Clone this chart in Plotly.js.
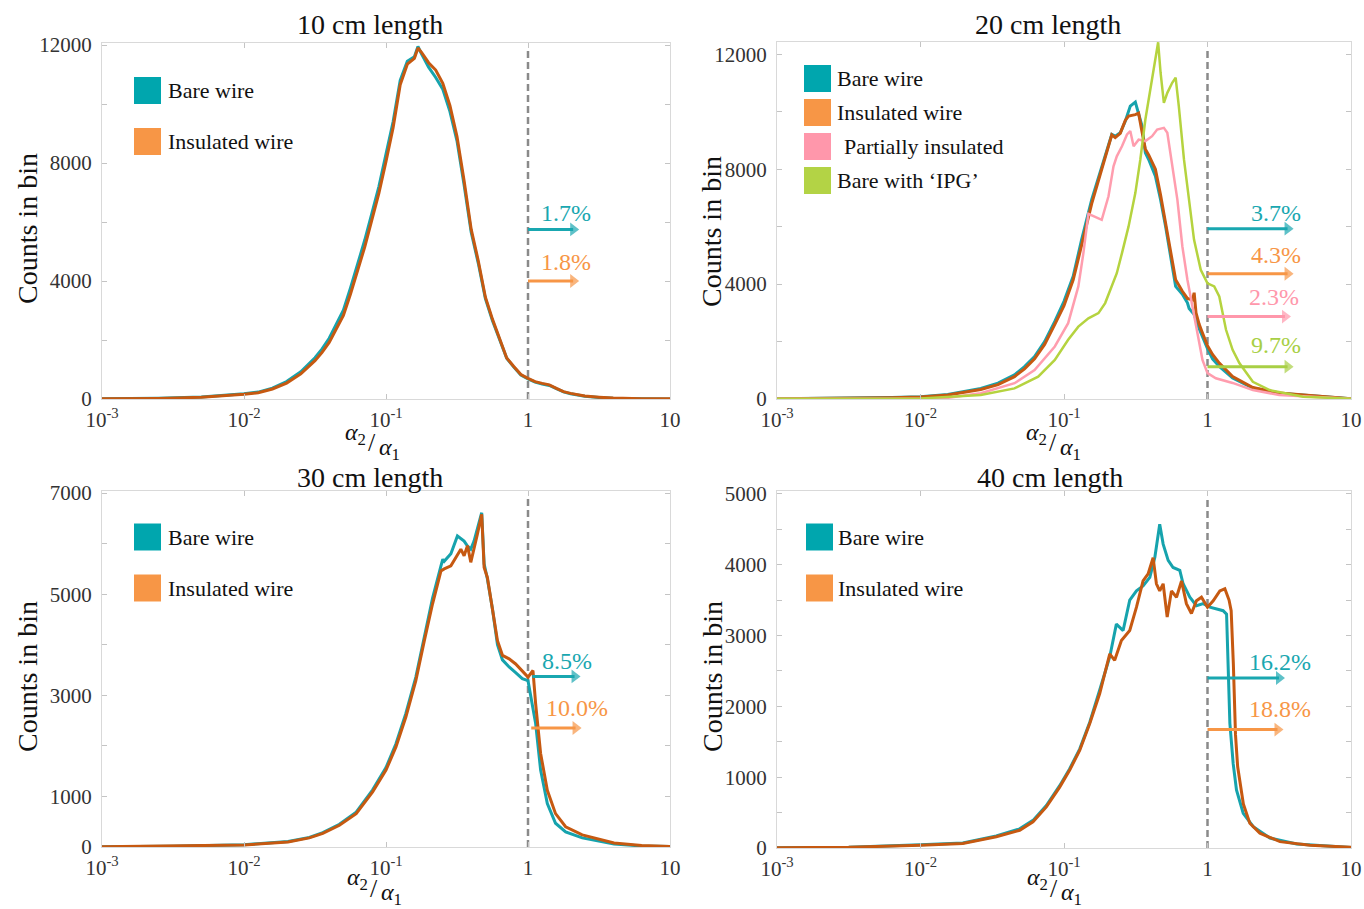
<!DOCTYPE html>
<html>
<head>
<meta charset="utf-8">
<script src="https://cdn.plot.ly/plotly-3.0.1.min.js"></script>
<style>html,body{margin:0;padding:0;background:#fff;}#chart{width:1364px;height:909px;}</style>
</head>
<body>
<div id="chart"></div>
<script>
// ---------------- DATA ----------------
const panelTitles = ['10 cm length', '20 cm length', '30 cm length', '40 cm length'];
const xTickVals = [0.001, 0.01, 0.1, 1, 10];
const xTickText = ['10<sup>-3</sup>', '10<sup>-2</sup>', '10<sup>-1</sup>', '1', '10'];
const yTickVals = [[0, 4000, 8000, 12000], [0, 4000, 8000, 12000], [0, 1000, 3000, 5000, 7000], [0, 1000, 2000, 3000, 4000, 5000]];
const yTickText = [['0', '4000', '8000', '12000'], ['0', '4000', '8000', '12000'], ['0', '1000', '3000', '5000', '7000'], ['0', '1000', '2000', '3000', '4000', '5000']];
const yMinorStep = [2000, 2000, 1000, 500];

// 10 cm
const bare10X = [0.001,0.002512,0.005012,0.007943,0.01,0.01259,0.01585,0.01995,0.02512,0.03162,0.03548,0.03981,0.04467,0.05012,0.05623,0.0631,0.07079,0.07943,0.08913,0.1,0.1122,0.1259,0.1413,0.1585,0.1679,0.1778,0.1995,0.2239,0.2512,0.2818,0.3162,0.3548,0.3981,0.4467,0.5012,0.5623,0.631,0.7079,0.7943,0.8913,1,1.122,1.259,1.413,1.585,1.778,1.995,2.512,3.162,3.981,6.31,10];
const bare10Y = [5,22,65,130,175,235,370,590,920,1400,1700,2060,2530,3010,3760,4560,5380,6280,7200,8300,9400,10800,11450,11600,11950,11700,11250,10900,10500,9750,8750,7250,5650,4600,3400,2650,2000,1380,1080,810,680,570,510,460,350,240,180,95,55,28,9,4];
const insul10X = bare10X;
const insul10Y = [5,20,60,120,160,215,340,540,850,1300,1580,1920,2370,2830,3560,4350,5150,6060,6980,8050,9200,10650,11350,11550,11900,11750,11400,11150,10700,9950,8900,7400,5750,4680,3450,2700,2020,1390,1100,830,700,590,530,480,360,250,190,100,60,30,10,5];

// 20 cm
const bare20X = [0.001,0.003162,0.00631,0.01,0.01549,0.0263,0.03467,0.04519,0.05309,0.06237,0.07328,0.0863,0.1,0.1159,0.1327,0.156,0.1832,0.2042,0.2153,0.2275,0.2466,0.2673,0.2897,0.3141,0.3311,0.3499,0.369,0.389,0.4335,0.471,0.5105,0.5534,0.5998,0.6683,0.7244,0.7447,0.8054,0.875,0.9226,1,1.084,1.208,1.496,2.07,3.162,6.081,10];
const bare20Y = [5,20,50,80,160,370,550,840,1130,1480,2000,2700,3400,4270,5550,6940,8100,8800,9210,9150,9270,9670,10200,10340,9970,9500,8570,8340,7760,6940,6010,4970,3920,3650,3350,3150,2950,2450,2150,1750,1400,1130,730,380,200,80,10];
const insul20X = [0.001,0.003162,0.00631,0.01,0.01549,0.0263,0.03467,0.04519,0.05309,0.06237,0.07328,0.0863,0.1,0.1159,0.1327,0.156,0.1832,0.2042,0.2153,0.2275,0.2466,0.2673,0.2818,0.3141,0.3311,0.3467,0.369,0.389,0.4335,0.471,0.5105,0.5534,0.5998,0.6683,0.7244,0.7852,0.8072,0.8318,0.875,0.9226,1,1.084,1.208,1.496,2.07,3.162,6.081,10];
const insul20Y = [5,15,40,70,140,330,500,780,1050,1400,1900,2600,3250,4150,5400,6800,8000,8800,9200,9100,9250,9700,9850,9900,9950,9400,8700,8500,8000,7100,6100,5100,4150,3750,3500,3450,3700,3000,2600,2300,1850,1550,1250,780,400,210,85,10];
const partial20X = [0.001,0.003162,0.01,0.01259,0.01549,0.0263,0.04519,0.06237,0.0863,0.1069,0.1259,0.1365,0.1479,0.1644,0.1832,0.2042,0.2213,0.2333,0.2535,0.2748,0.2897,0.3055,0.3311,0.369,0.4111,0.4457,0.4966,0.5248,0.5675,0.6166,0.6683,0.7244,0.7852,0.8511,0.9226,1,1.143,1.496,2.07,3.162,6.081,10];
const partial20Y = [5,5,10,20,40,200,550,1010,1830,2640,3920,5080,6450,6360,6240,7060,8100,8450,8800,9210,9330,8800,9030,8980,9150,9380,9440,9270,8100,6940,5310,4150,3220,2290,1360,900,720,560,310,140,50,5];
const ipg20X = [0.001,0.003162,0.01,0.0263,0.04519,0.06607,0.0863,0.1069,0.1259,0.1479,0.1738,0.1936,0.2153,0.2333,0.2535,0.2818,0.3141,0.3404,0.369,0.389,0.4227,0.4529,0.471,0.4966,0.5248,0.5675,0.5998,0.631,0.6855,0.743,0.8054,0.8974,1,1.114,1.208,1.346,1.496,1.667,2.07,2.71,4.645,10];
const ipg20Y = [5,10,20,140,370,780,1360,2060,2520,2810,2990,3340,3920,4380,5080,6010,7170,8340,9730,10430,11590,12420,11360,10310,10660,11010,11190,10200,8340,6940,5550,4500,4030,3920,3570,2410,1710,1250,600,310,80,10];

// 30 cm
const bare30X = [0.001,0.003162,0.01,0.02042,0.02884,0.03589,0.04699,0.06166,0.08054,0.1,0.1175,0.138,0.1622,0.1862,0.2128,0.2438,0.2512,0.257,0.2864,0.3184,0.3365,0.3548,0.375,0.3954,0.4169,0.4406,0.4721,0.4909,0.5176,0.5623,0.6095,0.6607,0.7362,0.8185,0.912,1,1.132,1.227,1.368,1.563,1.841,2.41,3.327,4.036,6.31,10];
const bare30Y = [5,15,45,110,190,285,450,690,1130,1570,2040,2640,3360,4180,4920,5560,5690,5650,5800,6150,6100,6050,5950,5890,6050,6300,6610,5600,5300,4700,4000,3700,3560,3450,3330,3290,2440,1520,860,470,300,180,110,60,20,8];
const insul30X = [0.001,0.003162,0.01,0.02042,0.02884,0.03589,0.04699,0.06166,0.08054,0.1,0.1175,0.138,0.1622,0.1862,0.2128,0.2438,0.257,0.2864,0.3105,0.3365,0.3548,0.375,0.3954,0.4169,0.4406,0.4721,0.4909,0.5176,0.5623,0.6095,0.6607,0.7362,0.8185,0.912,1,1.084,1.132,1.227,1.368,1.563,1.841,2.41,3.327,4.036,6.31,10];
const insul30Y = [5,15,40,100,180,270,430,660,1090,1520,1980,2570,3290,4080,4810,5460,5500,5560,5730,5890,5760,5960,5630,5890,6190,6580,5530,5330,4740,4080,3790,3720,3620,3490,3360,3490,2830,1850,1120,660,400,240,140,80,30,10];

// 40 cm
const bare40X = [0.001,0.003162,0.01,0.01972,0.03373,0.04909,0.06081,0.07534,0.09333,0.1096,0.1288,0.1514,0.1774,0.2084,0.2317,0.2582,0.2871,0.3199,0.3556,0.3963,0.4295,0.4645,0.4909,0.5321,0.5754,0.6412,0.6761,0.7534,0.8375,0.9333,1.038,1.156,1.285,1.358,1.393,1.432,1.51,1.592,1.774,2.084,2.723,4.178,10];
const bare40Y = [5,10,45,70,170,270,390,600,880,1120,1400,1780,2230,2700,3160,3070,3500,3630,3700,3820,4100,4570,4290,4060,3960,3920,3730,3540,3420,3450,3400,3380,3350,3300,2690,1760,1190,820,490,300,140,56,8];
const insul40X = [0.001,0.003162,0.01,0.01972,0.03373,0.04909,0.06081,0.07534,0.09333,0.1096,0.1288,0.1514,0.1774,0.2084,0.2254,0.2512,0.2871,0.3199,0.3556,0.3855,0.4178,0.4406,0.4645,0.4909,0.5236,0.561,0.6081,0.6592,0.7129,0.7727,0.8375,0.9078,1,1.096,1.219,1.321,1.413,1.462,1.514,1.567,1.622,1.698,1.778,1.972,2.317,3.199,5.176,10];
const insul40Y = [5,10,40,65,160,250,370,580,860,1100,1380,1760,2180,2740,2650,2930,3070,3400,3770,3870,4100,3730,3630,3730,3260,3630,3540,3770,3450,3310,3490,3540,3400,3490,3630,3660,3500,3350,2600,1600,1150,880,620,350,210,90,40,10];

// threshold line (alpha2/alpha1 = 1) and percentages of counts above it
const thresholdX = 1;
const dashTop = [11830, 12170, 6900, 4930];
const pct10Labels = ['1.7%', '1.8%'];
const pct10Levels = [5750, 4000];
const pct10TextY = [6300, 4650];
const pct10TextX = [1.854, 1.854];
const pct10TailX = [1, 1];
const pct10TipX = [2.08, 2.08];
const pct20Labels = ['3.7%', '4.3%', '2.3%', '9.7%'];
const pct20Levels = [5930, 4360, 2870, 1127];
const pct20TextY = [6490, 5020, 3560, 1880];
const pct20TextX = [2.985, 2.985, 2.891, 2.985];
const pct20TailX = [1, 1, 1, 1];
const pct20TipX = [3.615, 3.615, 3.467, 3.615];
const pct30Labels = ['8.5%', '10.0%'];
const pct30Levels = [3373, 2353];
const pct30TextY = [3675, 2740];
const pct30TextX = [1.888, 2.218];
const pct30TailX = [1.072, 1.054];
const pct30TipX = [2.128, 2.163];
const pct40Labels = ['16.2%', '18.8%'];
const pct40Levels = [2400, 1672];
const pct40TextY = [2624, 1968];
const pct40TextX = [3.199, 3.199];
const pct40TailX = [1, 1];
const pct40TipX = [3.148, 3.076];

const seriesNames = ['Bare wire', 'Insulated wire', 'Partially insulated', 'Bare with \u2018IPG\u2019'];

// ---------------- STYLE ----------------
const FONT = '"Liberation Serif", "Times New Roman", Times, serif';
const W = 1364, H = 909;
const LINE = {bare: '#16A3AD', insul: '#C65911', partial: '#FF9DAE', ipg: '#B5D33F'};
const KEY = {bare: '#00A6AE', insul: '#F79646', partial: '#FF97AB', ipg: '#B3D345'};
const PCT = {bare: '#19A7B0', insul: '#F79646', partial: '#FF97AB', ipg: '#A8CF45'};

const px = x => x / W;
const py = y => 1 - y / H;

const domX = [[px(102), px(670)], [px(777), px(1351)]];
const domY = [[py(399), py(43)], [py(399), py(42)], [py(847), py(491)], [py(848), py(491)]];
const yRanges = [[0, 12068], [0, 12430], [0, 7040], [0, 5040]];

function line(x, y, color, width, xa, ya, name) {
  return {x: x, y: y, xaxis: xa, yaxis: ya, type: 'scatter', mode: 'lines', name: name,
    line: {color: color, width: width}, showlegend: false, hoverinfo: 'x+y+name'};
}
function dash(i, xa, ya) {
  return {x: [thresholdX, thresholdX], y: [0, dashTop[i]], xaxis: xa, yaxis: ya, type: 'scatter', mode: 'lines',
    line: {color: '#8a8a8a', width: 2.5, dash: '7px,4px'}, showlegend: false, hoverinfo: 'skip'};
}
function arrows(xa, ya, levels, tails, tips, colors) {
  return levels.map((lv, k) => ({x: [tails[k], tips[k]], y: [lv, lv], xaxis: xa, yaxis: ya, type: 'scatter',
    mode: 'lines+markers', line: {color: colors[k], width: 3},
    marker: {symbol: ['circle', 'triangle-right'], size: [0, 12], color: colors[k], line: {width: 0}},
    showlegend: false, hoverinfo: 'skip'}));
}

const traces = [
  dash(0, 'x', 'y'),
  line(bare10X, bare10Y, LINE.bare, 3, 'x', 'y', seriesNames[0]),
  line(insul10X, insul10Y, LINE.insul, 3, 'x', 'y', seriesNames[1]),
  dash(1, 'x2', 'y2'),
  line(bare20X, bare20Y, LINE.bare, 3, 'x2', 'y2', seriesNames[0]),
  line(insul20X, insul20Y, LINE.insul, 3, 'x2', 'y2', seriesNames[1]),
  line(partial20X, partial20Y, LINE.partial, 2.5, 'x2', 'y2', seriesNames[2]),
  line(ipg20X, ipg20Y, LINE.ipg, 2.5, 'x2', 'y2', seriesNames[3]),
  dash(2, 'x3', 'y3'),
  line(bare30X, bare30Y, LINE.bare, 3, 'x3', 'y3', seriesNames[0]),
  line(insul30X, insul30Y, LINE.insul, 3, 'x3', 'y3', seriesNames[1]),
  dash(3, 'x4', 'y4'),
  line(bare40X, bare40Y, LINE.bare, 3, 'x4', 'y4', seriesNames[0]),
  line(insul40X, insul40Y, LINE.insul, 3, 'x4', 'y4', seriesNames[1])
].concat(
  arrows('x', 'y', pct10Levels, pct10TailX, pct10TipX, [PCT.bare, PCT.insul]),
  arrows('x2', 'y2', pct20Levels, pct20TailX, pct20TipX, [PCT.bare, PCT.insul, PCT.partial, PCT.ipg]),
  arrows('x3', 'y3', pct30Levels, pct30TailX, pct30TipX, [PCT.bare, PCT.insul]),
  arrows('x4', 'y4', pct40Levels, pct40TailX, pct40TipX, [PCT.bare, PCT.insul])
);

const tickFont = {family: FONT, size: 21, color: '#333'};
function xAxis(dom, anchor) {
  return {type: 'log', domain: dom, anchor: anchor, range: [-3, 1], tickmode: 'array', tickvals: xTickVals, ticktext: xTickText,
    ticks: 'inside', ticklen: 5, tickcolor: '#c4c4c4', showline: true, linecolor: '#d9d9d9', linewidth: 1, mirror: 'ticks',
    showgrid: false, zeroline: false, tickfont: tickFont, ticklabelstandoff: 2, fixedrange: true};
}
function yAxis(i, anchor) {
  return {domain: domY[i], anchor: anchor, range: yRanges[i], tickmode: 'array', tickvals: yTickVals[i], ticktext: yTickText[i],
    ticks: 'inside', ticklen: 5, tickcolor: '#c4c4c4', showline: true, linecolor: '#d9d9d9', linewidth: 1, mirror: 'ticks',
    minor: {tick0: 0, dtick: yMinorStep[i], ticks: 'inside', ticklen: 5, tickcolor: '#c4c4c4', showgrid: false},
    showgrid: false, zeroline: false, tickfont: tickFont, ticklabelstandoff: 5, fixedrange: true};
}

const annotations = [];
const shapes = [];

// panel titles
const titlePos = [[370, 25], [1048, 25], [370, 477], [1050, 477]];
panelTitles.forEach((t, i) => annotations.push({xref: 'paper', yref: 'paper', x: px(titlePos[i][0]), y: py(titlePos[i][1]),
  text: t, showarrow: false, xanchor: 'center', yanchor: 'middle', font: {family: FONT, size: 28, color: '#111'}}));

// y titles
const yTitlePos = [[27, 229], [711, 232], [27, 677], [712, 677]];
yTitlePos.forEach(p => annotations.push({xref: 'paper', yref: 'paper', x: px(p[0]), y: py(p[1]), text: 'Counts in bin',
  textangle: -90, showarrow: false, xanchor: 'center', yanchor: 'middle', font: {family: FONT, size: 28, color: '#111'}}));

// x titles: alpha2 / alpha1 written as a slanted fraction
const xTitlePos = [[373, 442], [1054, 442], [375, 887], [1055, 887]];
xTitlePos.forEach(p => {
  annotations.push({xref: 'paper', yref: 'paper', x: px(p[0] - 18), y: py(p[1] - 8), text: '<i>\u03b1</i><sub>2</sub>',
    showarrow: false, xanchor: 'center', yanchor: 'middle', font: {family: FONT, size: 24, color: '#111'}});
  annotations.push({xref: 'paper', yref: 'paper', x: px(p[0] - 1), y: py(p[1] + 1), text: '/',
    showarrow: false, xanchor: 'center', yanchor: 'middle', font: {family: FONT, size: 26, color: '#111'}});
  annotations.push({xref: 'paper', yref: 'paper', x: px(p[0] + 16), y: py(p[1] + 7), text: '<i>\u03b1</i><sub>1</sub>',
    showarrow: false, xanchor: 'center', yanchor: 'middle', font: {family: FONT, size: 24, color: '#111'}});
});

// legends (key squares + labels)
function legend(x0, centers, keys, names, textX) {
  centers.forEach((c, k) => {
    shapes.push({type: 'rect', xref: 'paper', yref: 'paper', x0: px(x0), x1: px(x0 + 27), y0: py(c + 13.5), y1: py(c - 13.5),
      fillcolor: keys[k], line: {width: 0}});
    annotations.push({xref: 'paper', yref: 'paper', x: px(textX[k]), y: py(c), text: names[k], showarrow: false,
      xanchor: 'left', yanchor: 'middle', font: {family: FONT, size: 22, color: '#111'}});
  });
}
legend(134, [90.5, 141.5], [KEY.bare, KEY.insul], seriesNames.slice(0, 2), [166, 166]);
legend(804, [78.5, 112.5, 146.5, 180.5], [KEY.bare, KEY.insul, KEY.partial, KEY.ipg], seriesNames, [835, 835, 842, 835]);
legend(134, [537, 588], [KEY.bare, KEY.insul], seriesNames.slice(0, 2), [166, 166]);
legend(806, [537, 588], [KEY.bare, KEY.insul], seriesNames.slice(0, 2), [836, 836]);

// percentage labels
function pctText(xa, ya, labels, textX, textY, colors) {
  labels.forEach((lab, k) => annotations.push({xref: xa, yref: ya, x: Math.log10(textX[k]), y: textY[k], text: lab,
    showarrow: false, xanchor: 'center', yanchor: 'middle', font: {family: FONT, size: 24, color: colors[k]}}));
}
pctText('x', 'y', pct10Labels, pct10TextX, pct10TextY, [PCT.bare, PCT.insul]);
pctText('x2', 'y2', pct20Labels, pct20TextX, pct20TextY, [PCT.bare, PCT.insul, PCT.partial, PCT.ipg]);
pctText('x3', 'y3', pct30Labels, pct30TextX, pct30TextY, [PCT.bare, PCT.insul]);
pctText('x4', 'y4', pct40Labels, pct40TextX, pct40TextY, [PCT.bare, PCT.insul]);

const layout = {
  width: W, height: H, margin: {l: 0, r: 0, t: 0, b: 0}, paper_bgcolor: '#fff', plot_bgcolor: '#fff',
  font: {family: FONT, size: 21, color: '#111'}, showlegend: false,
  xaxis: xAxis(domX[0], 'y'), yaxis: yAxis(0, 'x'),
  xaxis2: xAxis(domX[1], 'y2'), yaxis2: yAxis(1, 'x2'),
  xaxis3: xAxis(domX[0], 'y3'), yaxis3: yAxis(2, 'x3'),
  xaxis4: xAxis(domX[1], 'y4'), yaxis4: yAxis(3, 'x4'),
  annotations: annotations, shapes: shapes
};

Plotly.newPlot('chart', traces, layout, {displayModeBar: false, staticPlot: true});
</script>
</body>
</html>
